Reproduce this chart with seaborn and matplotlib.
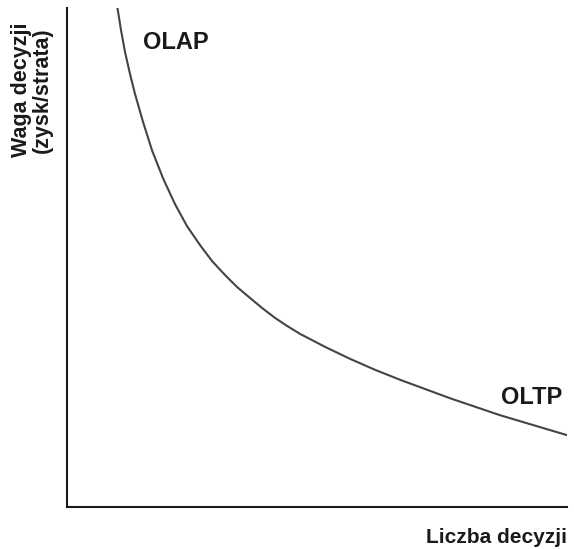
import pandas as pd
import matplotlib.pyplot as plt
import seaborn as sns

# curve (arbitrary units, both axes 0..10)
liczba = [1.01, 1.08, 1.16, 1.26, 1.36, 1.52, 1.70, 1.92, 2.16, 2.40,
          2.66, 2.90, 3.16, 3.40, 3.66, 3.90, 4.16, 4.40, 4.66, 5.16,
          5.66, 6.16, 6.66, 7.66, 8.66, 10.0]
waga = [10.0, 9.56, 9.12, 8.68, 8.28, 7.72, 7.15, 6.59, 6.07, 5.63,
        5.25, 4.93, 4.65, 4.41, 4.19, 3.99, 3.79, 3.63, 3.47, 3.21,
        2.97, 2.75, 2.55, 2.18, 1.84, 1.44]

curve = pd.DataFrame({"Liczba decyzji": liczba, "Waga": waga})

sns.set_style("white")
plt.rcParams['font.family'] = ['Liberation Sans', 'DejaVu Sans']

fig = plt.figure(figsize=(5.74, 5.49), dpi=100)
ax = fig.add_axes([0.1167, 0.0765, 0.8711, 0.9089])

sns.lineplot(data=curve, x="Liczba decyzji", y="Waga", ax=ax,
             color="#444444", linewidth=1.5)

ax.set_xlim(0, 10)
ax.set_ylim(0, 10)
ax.set_xticks([])
ax.set_yticks([])
ax.set_xlabel("")
ax.set_ylabel("")
sns.despine(ax=ax)
for s in ["left", "bottom"]:
    ax.spines[s].set_color("#1a1a1a")
    ax.spines[s].set_linewidth(1.5)

ax.text(0.152, 0.93, "OLAP", transform=ax.transAxes, fontsize=17,
        fontweight="bold", color="#1a1a1a", ha="left", va="center")
ax.text(0.99, 0.22, "OLTP", transform=ax.transAxes, fontsize=17,
        fontweight="bold", color="#1a1a1a", ha="right", va="center")
ax.text(1.0, -0.062, "Liczba decyzji", transform=ax.transAxes, fontsize=15,
        fontweight="bold", color="#1a1a1a", ha="right", va="center")
ax.text(-0.07, 0.836, "Waga decyzji\n(zysk/strata)", transform=ax.transAxes,
        fontsize=15.5, fontweight="bold", color="#1a1a1a", rotation=90,
        ha="center", va="center", multialignment="center", linespacing=1.0)

fig.savefig("out.png", dpi=100)
